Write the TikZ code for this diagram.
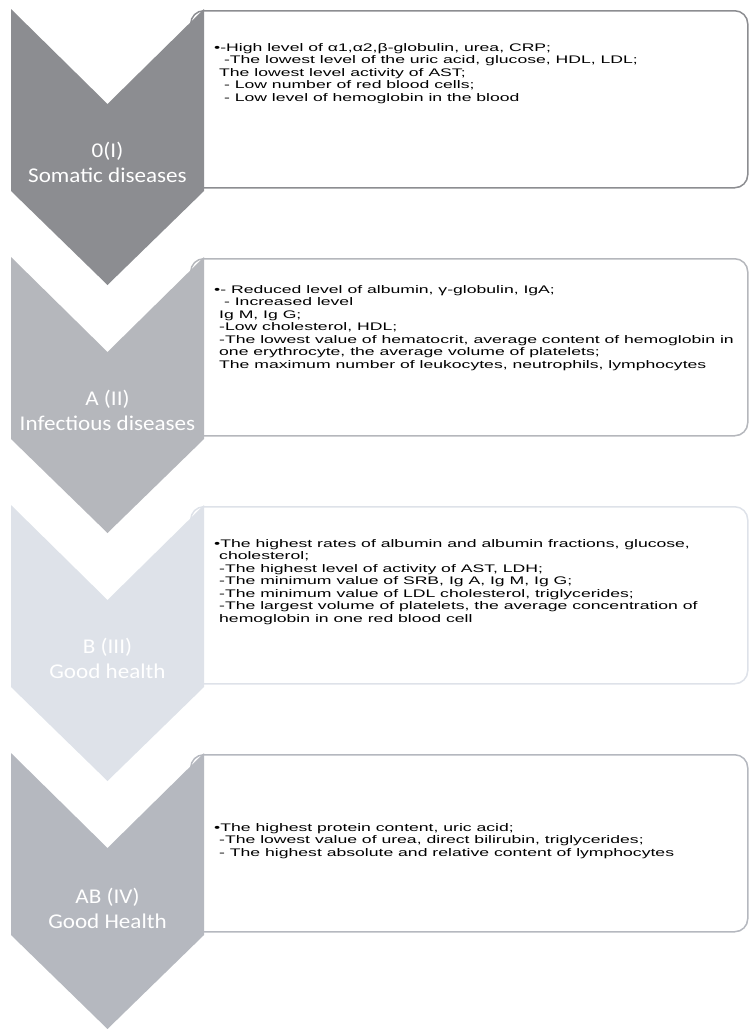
\documentclass[tikz,border=0pt]{standalone}
\usepackage{fontspec}
\setmainfont{Liberation Sans}
\newfontfamily\boxfont[FakeStretch=1.6]{Liberation Sans}
\newfontfamily\chevfont[FakeStretch=1.1]{Carlito}
\usetikzlibrary{calc}
\definecolor{chevA}{HTML}{8C8D91}
\definecolor{chevB}{HTML}{B5B7BC}
\definecolor{chevC}{HTML}{DEE2E9}
\definecolor{chevD}{HTML}{B5B8BF}
\tikzset{infobox/.style={draw, line width=1.5pt, fill=white, rounded corners=13pt, anchor=north west, minimum width=557pt, minimum height=177pt, inner sep=0pt}}
\tikzset{chevlabel/.style={text=white, align=center, font=\chevfont\fontsize{21}{25}\selectfont}}
\tikzset{infotext/.style={anchor=north west, align=left, inner sep=0pt, font=\boxfont\fontsize{11}{12.5}\selectfont}}
\newcommand{\ind}{\hspace*{5pt}}

\begin{document}
\begin{tikzpicture}[x=1pt,y=-1pt]
  \useasboundingbox (0,0) rectangle (749,1029);
  % boxes, their left side hides under the chevrons
  \foreach \t/\col/\n in {
    10/chevA/1,
    258/chevB/2,
    506/chevC/3,
    754/chevD/4%
  } {
    \node[infobox, draw=\col] (box\n) at (190,\t) {};
  }
  % chevrons
  \foreach \t/\col in {
    9/chevA,
    257/chevB,
    505/chevC,
    753/chevD%
  } {
    \fill[\col] (11,\t) -- (107.5,\t+95) -- (204,\t) -- (204,\t+182)
      -- (107.5,\t+276) -- (11,\t+182) -- cycle;
  }
  \node[chevlabel] (lab1) at (107.5,162) {0(I)\\Somatic diseases};
  \node[chevlabel] (lab2) at (107.5,410) {A (II)\\Infectious diseases};
  \node[chevlabel] (lab3) at (107.5,658) {B (III)\\Good health};
  \node[chevlabel] (lab4) at (107.5,908) {AB (IV)\\Good Health};

  \node[infotext] (txt1) at (214,43) {%
    \textbullet-High level of α1,α2,β-globulin, urea, CRP;\\
    \ind\ -The lowest level of the uric acid, glucose, HDL, LDL;\\
    \ind The lowest level activity of AST;\\
    \ind\ - Low number of red blood cells;\\
    \ind\ - Low level of hemoglobin in the blood};
  \node[infotext] (txt2) at (214,285) {%
    \textbullet- Reduced level of albumin, γ-globulin, IgA;\\
    \ind\ - Increased level\\
    \ind Ig M, Ig G;\\
    \ind -Low cholesterol, HDL;\\
    \ind -The lowest value of hematocrit, average content of hemoglobin in\\
    \ind one erythrocyte, the average volume of platelets;\\
    \ind The maximum number of leukocytes, neutrophils, lymphocytes};
  \node[infotext] (txt3) at (214,539) {%
    \textbullet The highest rates of albumin and albumin fractions, glucose,\\
    \ind cholesterol;\\
    \ind -The highest level of activity of AST, LDH;\\
    \ind -The minimum value of SRB, Ig A, Ig M, Ig G;\\
    \ind -The minimum value of LDL cholesterol, triglycerides;\\
    \ind -The largest volume of platelets, the average concentration of\\
    \ind hemoglobin in one red blood cell};
  \node[infotext] (txt4) at (214,823) {%
    \textbullet The highest protein content, uric acid;\\
    \ind -The lowest value of urea, direct bilirubin, triglycerides;\\
    \ind - The highest absolute and relative content of lymphocytes};
\end{tikzpicture}
\end{document}
